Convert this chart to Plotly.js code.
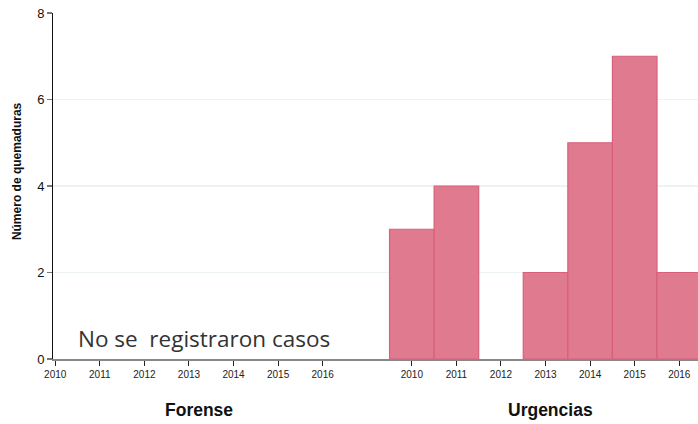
<!DOCTYPE html>
<html><head><meta charset="utf-8">
<script src="https://cdn.plot.ly/plotly-3.0.1.min.js"></script>
<style>body{margin:0;padding:0;background:#fff}#chart{width:698px;height:424px}</style>
</head><body><div id="chart"></div>
<script>
var years = ["2010","2011","2012","2013","2014","2015","2016"];
var groups = ["Forense","Urgencias"];
var forenseValues = [0,0,0,0,0,0,0];
var urgenciasValues = [3,4,0,2,5,7,2];
var yTicks = [0,2,4,6,8];
var yTitle = "Número de quemaduras";
var note = "No se\u00a0 registraron casos";

var xF = years.map(function(_,i){return i;});
var xU = years.map(function(_,i){return i+8;});

var traces = [
  {type:"bar", x:xU, y:urgenciasValues, width:1,
   marker:{color:"#e07a8f", line:{color:"#d95f7b",
     width:urgenciasValues.map(function(v){return v>0?1.2:0;})}},
   hoverinfo:"skip", showlegend:false}
];

var F = "Liberation Sans, Arial, sans-serif";
var layout = {
  width:698, height:424,
  margin:{l:53, r:0, t:13, b:65},
  paper_bgcolor:"#fff", plot_bgcolor:"#fff",
  bargap:0,
  xaxis:{range:[-0.05,14.42], tickvals:xF.concat(xU), ticktext:years.concat(years),
    showgrid:false, zeroline:false, showline:true, linecolor:"#888", linewidth:2,
    ticks:"outside", ticklen:5, tickcolor:"#222", tickwidth:1,
    tickfont:{family:F, size:10, color:"#222"}},
  yaxis:{range:[0,8], tickvals:yTicks, showgrid:true, gridcolor:"#edf2f4", gridwidth:1.5,
    zeroline:false, showline:true, linecolor:"#111", linewidth:1,
    ticks:"outside", ticklen:5, tickcolor:"#777", tickwidth:1.5,
    tickfont:{family:F, size:13, color:"#111"}},
  annotations:[
    {xref:"paper", yref:"paper", x:0, xshift:-36, y:0.543, textangle:-90, showarrow:false,
     xanchor:"center", yanchor:"middle",
     text:"<b>"+yTitle+"</b>", font:{family:F, size:12, color:"#111"}},
    {xref:"x", yref:"paper", x:3.23, y:-0.148, yanchor:"middle", showarrow:false,
     text:"<b>"+groups[0]+"</b>", font:{family:F, size:17.5, color:"#111"}},
    {xref:"x", yref:"paper", x:11.1, y:-0.148, yanchor:"middle", showarrow:false,
     text:"<b>"+groups[1]+"</b>", font:{family:F, size:17.5, color:"#111"}},
    {xref:"x", yref:"y", x:3.34, y:0.0, yanchor:"bottom", xanchor:"center", showarrow:false, yshift:3,
     text:note, font:{family:"Open Sans, sans-serif", size:22.5, color:"#333"}}
  ]
};
Plotly.newPlot("chart", traces, layout, {staticPlot:true, displayModeBar:false});
</script></body></html>
